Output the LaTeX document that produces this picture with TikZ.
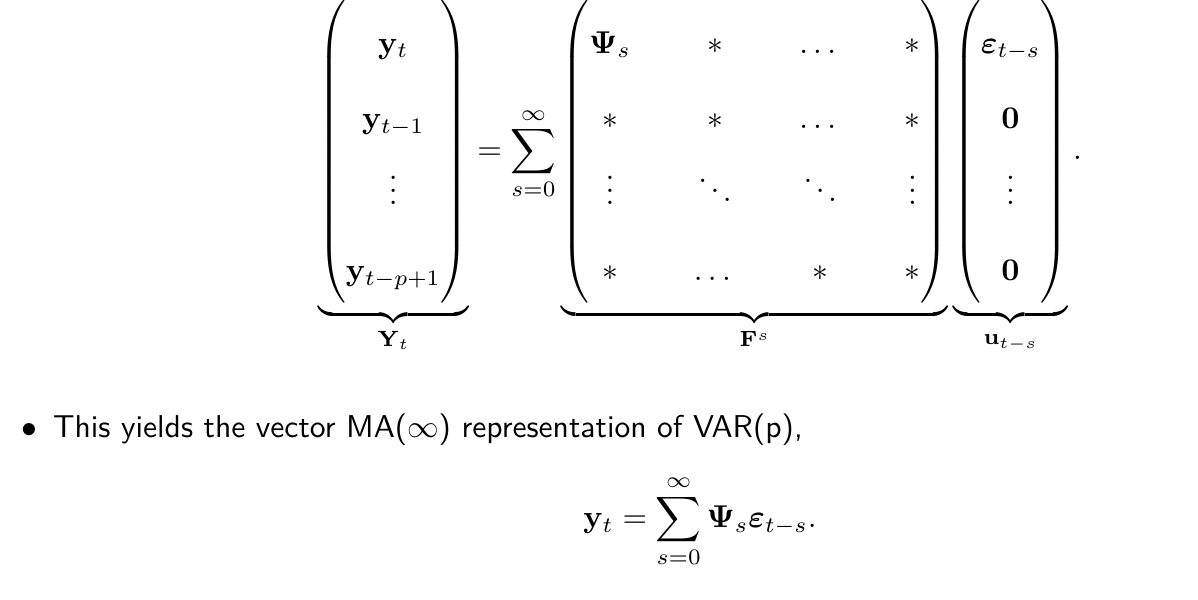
\documentclass[tikz,border=0pt]{standalone}
\usepackage{amsmath,amssymb,bm}
\begin{document}
\begin{tikzpicture}
\useasboundingbox (0,0) rectangle (16,8.013);
\tikzset{eqn/.style={inner sep=0pt}}
\node[eqn] (eq) at (9.35,5.65) {\scalebox{1.2}{$\displaystyle
\renewcommand\arraystretch{2.0}
\underbrace{\setlength\arraycolsep{26pt}\begin{pmatrix}\mathbf{y}_t\\\mathbf{y}_{t-1}\\\vdots\\\mathbf{y}_{t-p+1}\end{pmatrix}}_{\mathbf{Y}_t}
=\sum_{s=0}^{\infty}
\underbrace{\setlength\arraycolsep{10pt}\begin{pmatrix}\bm{\Psi}_s & * & \dots & *\\ * & * & \dots & *\\ \vdots & \ddots & \ddots & \vdots\\ * & \dots & * & *\end{pmatrix}}_{\mathbf{F}^s}
\underbrace{\setlength\arraycolsep{24pt}\begin{pmatrix}\bm{\varepsilon}_{t-s}\\\mathbf{0}\\\vdots\\\mathbf{0}\end{pmatrix}}_{\mathbf{u}_{t-s}}.$}};
\node[eqn,anchor=west] (bul) at (0.28,2.27) {\scalebox{1.2}{\sffamily$\bullet$\enspace This yields the vector MA($\infty$) representation of VAR(p),}};
\node[eqn] (eq2) at (9.35,1.05) {\scalebox{1.2}{$\displaystyle \mathbf{y}_t=\sum_{s=0}^{\infty}\bm{\Psi}_s\bm{\varepsilon}_{t-s}.$}};
\end{tikzpicture}
\end{document}
